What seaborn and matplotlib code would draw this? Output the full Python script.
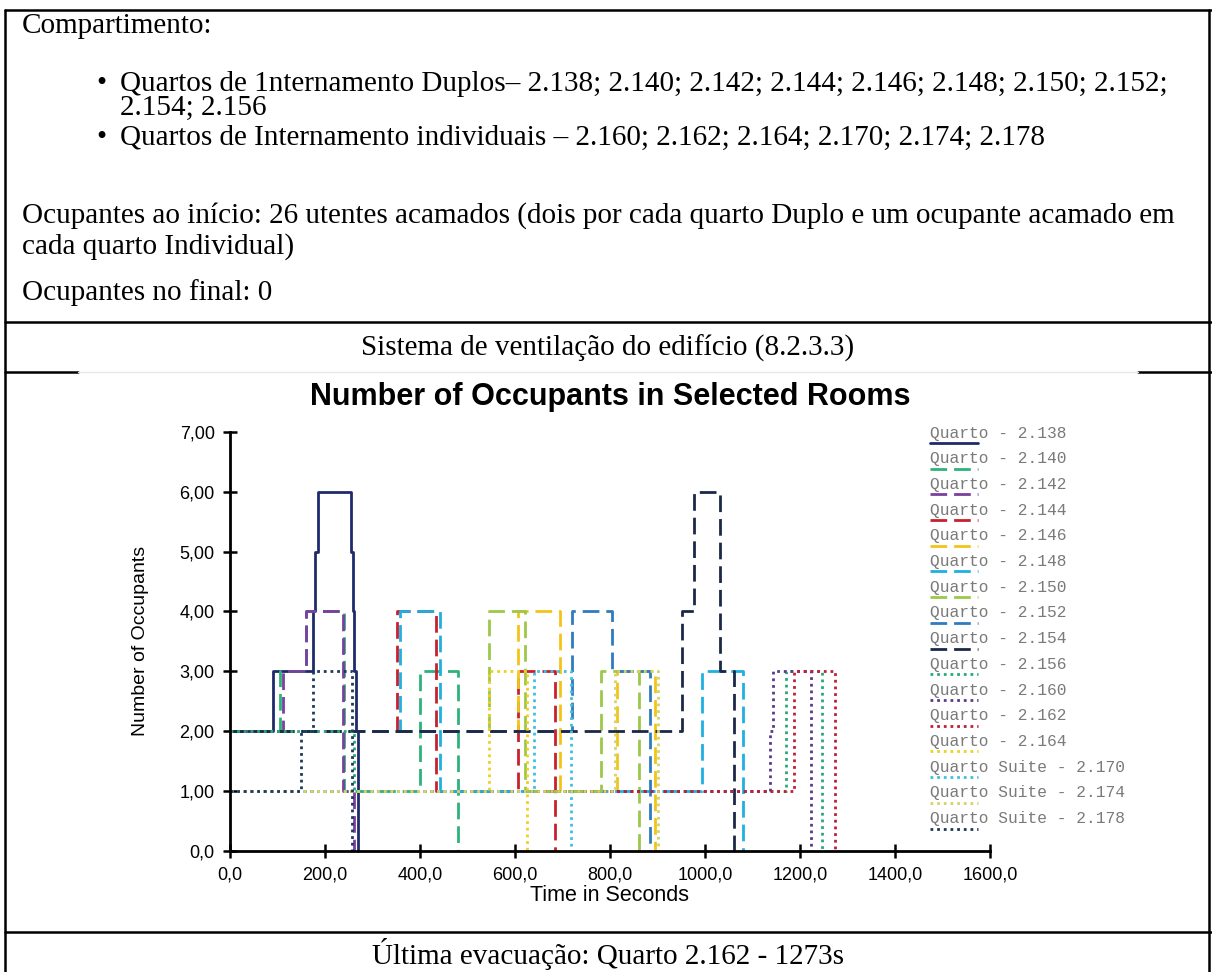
import matplotlib
matplotlib.use("Agg")
import matplotlib.pyplot as plt
import seaborn as sns
import pandas as pd
from matplotlib.lines import Line2D
from matplotlib.ticker import FuncFormatter

W, H = 1212, 972

# --- dados (tempo em s, nº de ocupantes) ---
rooms = ["Quarto - 2.138", "Quarto - 2.140", "Quarto - 2.142", "Quarto - 2.144",
         "Quarto - 2.146", "Quarto - 2.148", "Quarto - 2.150", "Quarto - 2.152",
         "Quarto - 2.154", "Quarto - 2.156", "Quarto - 2.160", "Quarto - 2.162",
         "Quarto - 2.164", "Quarto Suite - 2.170", "Quarto Suite - 2.174",
         "Quarto Suite - 2.178"]

t_2138 = [0, 90, 175, 178, 185, 255, 258, 262, 266, 270]
n_2138 = [2, 3, 4, 5, 6, 5, 4, 3, 2, 0]
t_2140 = [0, 105, 160, 240, 400, 480]
n_2140 = [2, 3, 4, 1, 3, 0]
t_2142 = [0, 112, 160, 237, 262]
n_2142 = [2, 3, 4, 1, 0]
t_2144 = [0, 351, 434, 607, 685]
n_2144 = [2, 4, 1, 3, 0]
t_2146 = [0, 607, 694, 815, 894]
n_2146 = [2, 4, 1, 3, 0]
t_2148 = [0, 358, 443, 994, 1079]
n_2148 = [2, 4, 1, 3, 0]
t_2150 = [0, 545, 622, 780, 860]
n_2150 = [2, 4, 1, 3, 0]
t_2152 = [0, 720, 805, 885]
n_2152 = [2, 4, 3, 0]
t_2154 = [0, 952, 977, 1031, 1061]
n_2154 = [2, 4, 6, 3, 0]
t_2156 = [0, 262, 1170, 1247]
n_2156 = [2, 1, 3, 0]
t_2160 = [0, 1137, 1143, 1223]
n_2160 = [1, 2, 3, 0]
t_2162 = [0, 1188, 1273]
n_2162 = [1, 3, 0]
t_2164 = [0, 545, 625]
n_2164 = [1, 3, 0]
t_2170 = [0, 639, 717]
n_2170 = [1, 3, 0]
t_2174 = [0, 810, 900]
n_2174 = [1, 3, 0]
t_2178 = [0, 150, 175, 257]
n_2178 = [1, 2, 3, 0]

times = [t_2138, t_2140, t_2142, t_2144, t_2146, t_2148, t_2150, t_2152,
         t_2154, t_2156, t_2160, t_2162, t_2164, t_2170, t_2174, t_2178]
counts = [n_2138, n_2140, n_2142, n_2144, n_2146, n_2148, n_2150, n_2152,
          n_2154, n_2156, n_2160, n_2162, n_2164, n_2170, n_2174, n_2178]

colors = ["#1f2a6b", "#2db37a", "#7b3fa0", "#c8202e", "#f2c418", "#1fb0e0",
          "#9cc84a", "#2f7bbf", "#1c2848", "#2aa876", "#5a3a8a", "#c01f3a",
          "#f0d020", "#3fc0e0", "#d4d468", "#1d3a5a"]
DASH = (0, (6, 2.5))
DOT = (0, (1, 1.4))
styles = ["-"] + [DASH] * 8 + [DOT] * 7

sns.set_style("ticks")
plt.rcParams["font.family"] = ["Liberation Sans", "DejaVu Sans"]
plt.rcParams["text.color"] = "black"
plt.rcParams["axes.labelcolor"] = "black"
plt.rcParams["xtick.color"] = "black"
plt.rcParams["ytick.color"] = "black"

fig = plt.figure(figsize=(W / 100, H / 100), dpi=100)


def fx(x):
    return x / W


def fy(y):
    return 1 - y / H


# --- tabela do documento ---
serif = ["Liberation Serif", "DejaVu Serif"]
fs = 21
border = dict(color="black", lw=1.8, transform=fig.transFigure)
fig.add_artist(Line2D([fx(5), fx(1212)], [fy(10), fy(10)], **border))
fig.add_artist(Line2D([fx(5), fx(5)], [fy(10), fy(972)], **border))
fig.add_artist(Line2D([fx(1209), fx(1209)], [fy(10), fy(972)], **border))
fig.add_artist(Line2D([fx(5), fx(1212)], [fy(322), fy(322)], **border))
fig.add_artist(Line2D([fx(5), fx(1212)], [fy(932), fy(932)], **border))
fig.add_artist(Line2D([fx(5), fx(78)], [fy(372), fy(372)], **border))
fig.add_artist(Line2D([fx(1138), fx(1212)], [fy(372), fy(372)], **border))
fig.add_artist(Line2D([fx(78), fx(1138)], [fy(372), fy(372)], color="#e8e8e8",
                      lw=1, transform=fig.transFigure))

rows = [
    (22, 26, "Compartimento:"),
    (120, 84, "Quartos de 1nternamento Duplos\u2013 2.138; 2.140; 2.142; 2.144; 2.146; 2.148; 2.150; 2.152;"),
    (120, 108, "2.154; 2.156"),
    (120, 138, "Quartos de Internamento individuais \u2013 2.160; 2.162; 2.164; 2.170; 2.174; 2.178"),
    (22, 216, "Ocupantes ao início: 26 utentes acamados (dois por cada quarto Duplo e um ocupante acamado em"),
    (22, 247, "cada quarto Individual)"),
    (22, 293, "Ocupantes no final: 0"),
]
for x, y, s in rows:
    fig.text(fx(x), fy(y), s, family=serif, fontsize=fs, va="center", ha="left")
for y in (84, 138):
    fig.text(fx(101), fy(y), "\u2022", family=serif, fontsize=fs, va="center", ha="center")
fig.text(fx(608), fy(348), "Sistema de ventilação do edifício (8.2.3.3)",
         family=serif, fontsize=fs, va="center", ha="center")
fig.text(fx(608), fy(954), "Última evacuação: Quarto 2.162 - 1273s",
         family=serif, fontsize=fs, va="center", ha="center")

# --- gráfico ---
ax = fig.add_axes([fx(230), fy(851), (990 - 230) / W, (851 - 431.7) / H])
for name, t, n, c, ls in zip(rooms, times, counts, colors, styles):
    df = pd.DataFrame({"t": t, "n": n})
    sns.lineplot(data=df, x="t", y="n", ax=ax, color=c, linestyle=ls, lw=2,
                 drawstyle="steps-post", estimator=None, clip_on=False)

ax.set_xlim(0, 1600)
ax.set_ylim(0, 7)
ax.set_xticks(range(0, 1601, 200))
ax.set_yticks(range(0, 8))
ax.xaxis.set_major_formatter(FuncFormatter(lambda v, p: f"{v:.1f}".replace(".", ",")))
ax.yaxis.set_major_formatter(FuncFormatter(
    lambda v, p: "0,0" if v == 0 else f"{v:.2f}".replace(".", ",")))
ax.tick_params(direction="inout", length=10, width=1.8, labelsize=13, pad=6)
for side in ("top", "right"):
    ax.spines[side].set_visible(False)
for side in ("left", "bottom"):
    ax.spines[side].set_linewidth(2)
    ax.spines[side].set_color("black")
ax.set_xlabel("Time in Seconds", fontsize=15.5, labelpad=1)
ax.set_ylabel("Number of Occupants", fontsize=14, labelpad=22)
fig.text(fx(610), fy(397), "Number of Occupants in Selected Rooms",
         fontsize=22, fontweight="bold", ha="center", va="center")

# --- legenda ---
for i, (name, c, ls) in enumerate(zip(rooms, colors, styles)):
    y = 433 + i * 25.7
    fig.text(fx(930), fy(y), name, family=["Liberation Mono", "DejaVu Sans Mono"],
             fontsize=11.7, color="#7a7a7a", ha="left", va="center")
    fig.add_artist(Line2D([fx(930), fx(978)], [fy(y + 10), fy(y + 10)], color=c,
                          linestyle=ls, lw=2, transform=fig.transFigure))

fig.savefig("out.png", dpi=100)
